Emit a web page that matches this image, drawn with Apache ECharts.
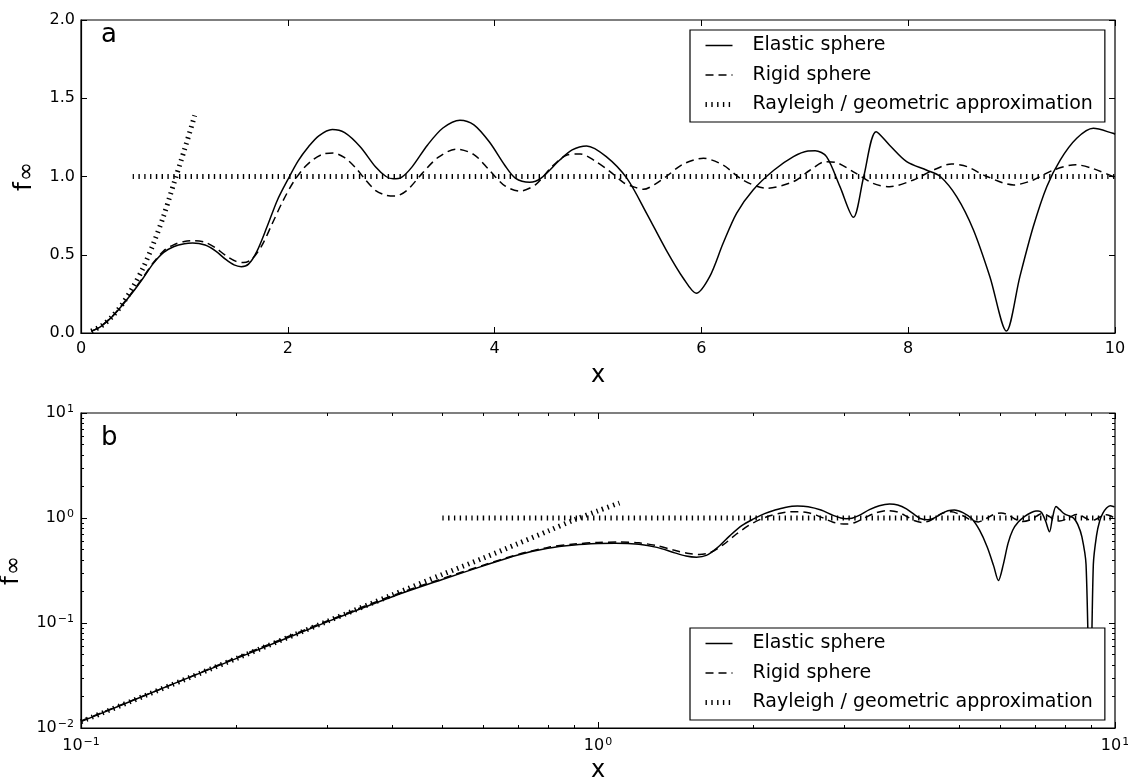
<!DOCTYPE html>
<html><head><meta charset="utf-8">
<script src="https://cdn.jsdelivr.net/npm/echarts@6/dist/echarts.min.js"></script>
<style>html,body{margin:0;padding:0;background:#fff}#c{width:1128px;height:779px}</style>
</head><body><div id="c"></div>
<script>
// ---------------- data ----------------
const seriesNames = ['Elastic sphere', 'Rigid sphere', 'Rayleigh / geometric approximation'];

const elasticX = [0.1,0.15,0.2,0.3,0.4,0.5,0.6,0.7,0.8,0.9,1.0,1.08,1.2,1.3,1.4,1.48,1.55,1.62,1.7,1.8,1.9,2.0,2.1,2.2,2.3,2.43,2.55,2.7,2.85,2.95,3.02,3.1,3.2,3.35,3.5,3.665,3.8,3.95,4.1,4.2,4.34,4.45,4.63,4.75,4.89,5.08,5.28,5.47,5.66,5.825,5.95,6.08,6.21,6.34,6.5,6.7,6.89,7.03,7.1,7.21,7.34,7.47,7.57,7.69,7.82,7.985,8.18,8.31,8.47,8.63,8.79,8.95,9.08,9.21,9.34,9.47,9.63,9.79,9.98,10.0];
const elasticY = [0.0115,0.026,0.046,0.103,0.178,0.26,0.35,0.445,0.515,0.553,0.571,0.575,0.562,0.525,0.47,0.435,0.424,0.44,0.52,0.68,0.85,0.98,1.1,1.19,1.26,1.30,1.28,1.19,1.06,1.0,0.985,0.995,1.06,1.2,1.31,1.36,1.33,1.22,1.07,0.99,0.963,0.99,1.105,1.17,1.195,1.127,0.988,0.765,0.53,0.35,0.254,0.36,0.573,0.765,0.914,1.04,1.127,1.163,1.165,1.127,0.935,0.739,1.0,1.286,1.2,1.095,1.04,1.0,0.87,0.66,0.36,0.012,0.36,0.68,0.935,1.105,1.244,1.308,1.276,1.27];

const rigidX = [0.1,0.15,0.2,0.3,0.4,0.5,0.6,0.7,0.8,0.9,1.0,1.1,1.2,1.3,1.4,1.5,1.57,1.65,1.75,1.85,1.95,2.05,2.15,2.25,2.35,2.44,2.55,2.65,2.75,2.85,2.95,3.04,3.15,3.3,3.45,3.63,3.8,3.95,4.1,4.245,4.4,4.55,4.7,4.83,4.97,5.12,5.25,5.34,5.44,5.55,5.66,5.825,6.02,6.21,6.4,6.63,6.89,7.05,7.2,7.3,7.47,7.66,7.82,8.05,8.24,8.42,8.57,8.76,9.02,9.21,9.4,9.62,9.79,9.98,10.0];
const rigidY = [0.0117,0.026,0.047,0.105,0.182,0.265,0.355,0.45,0.525,0.565,0.585,0.59,0.58,0.545,0.495,0.458,0.45,0.47,0.56,0.7,0.84,0.96,1.05,1.11,1.145,1.15,1.12,1.06,0.98,0.91,0.88,0.875,0.91,1.02,1.12,1.175,1.14,1.04,0.94,0.907,0.95,1.06,1.137,1.144,1.1,1.03,0.96,0.935,0.918,0.95,1.0,1.08,1.116,1.073,0.978,0.925,0.967,1.04,1.095,1.09,1.03,0.956,0.935,0.978,1.04,1.08,1.063,1.0,0.946,0.978,1.04,1.075,1.05,1.0,0.995];

const rayleighX = [0.1,0.2,0.3,0.4,0.5,0.6,0.7,0.8,0.9,1.0,1.1];
const rayleighY = [0.0115,0.046,0.104,0.185,0.29,0.415,0.57,0.75,0.96,1.17,1.39];

const geometricX = [0.5,10];
const geometricY = [1.0,1.0];

// tick values
const linXTicks = [0, 2, 4, 6, 8, 10];
const linYTicks = [0, 0.5, 1.0, 1.5, 2.0];
const logXDecades = [-1, 0, 1];
const logYDecades = [-2, -1, 0, 1];
const minorMultipliers = [2, 3, 4, 5, 6, 7, 8, 9];

// ---------------- helpers ----------------
const zip = (xs, ys) => xs.map((x, i) => [x, ys[i]]);
const FONT = 'DejaVu Sans';
const minorExp = decades => {
  const out = [];
  decades.slice(0, -1).forEach(d => minorMultipliers.forEach(m => out.push(d + Math.log10(m))));
  return out;
};
const supLabel = v => {
  const e = Math.round(Math.log10(v));
  return '{b|10}{s|' + (e < 0 ? '\u2212' + (-e) : e) + '}';
};
const supRich = {
  b: { fontSize: 16, fontFamily: FONT, color: '#000' },
  s: { fontSize: 11, fontFamily: FONT, color: '#000', verticalAlign: 'top', padding: [0, 0, 7, 1] }
};
const nameRich = {
  f: { fontSize: 25, fontFamily: FONT, color: '#000' },
  s: { fontSize: 23, fontFamily: FONT, color: '#000', padding: [6, 0, 0, 1] }
};
const tick = (len) => ({ show: true, inside: true, length: len, lineStyle: { color: '#000', width: 1 } });
const aux = (grid, pos, min, max, values, len) => ({
  type: 'value', gridIndex: grid, position: pos, min: min, max: max,
  axisLine: { show: false, onZero: false }, axisLabel: { show: false }, splitLine: { show: false },
  axisTick: Object.assign(tick(len), { customValues: values })
});

const styles = {
  elastic: { color: '#000', width: 1.5, type: 'solid' },
  rigid: { color: '#000', width: 1.5, type: [8, 5] },
  dotted: { color: '#000', width: 5, type: [1.4, 4.4], cap: 'butt' }
};
const mkSeries = (name, data, ls, xi, yi, z) => ({
  type: 'line', name: name, data: data, xAxisIndex: xi, yAxisIndex: yi, color: '#000',
  showSymbol: false, symbol: 'none', smooth: 0.3, lineStyle: ls, z: z, animation: false,
  emphasis: { disabled: true }
});

const hiddenSymbol = { color: 'rgba(0,0,0,0)', borderColor: 'rgba(0,0,0,0)', borderWidth: 0 };
const mkLegend = (top) => ({
  left: 690, top: top, orient: 'vertical',
  backgroundColor: '#fff', borderColor: '#000', borderWidth: 1.2, borderRadius: 0,
  padding: [6, 12, 8, 13], itemWidth: 27, itemHeight: 18, itemGap: 10.5,
  selectedMode: false, z: 10,
  textStyle: { fontFamily: FONT, fontSize: 19, color: '#000', padding: [0, 0, 0, 15] },
  data: [
    { name: seriesNames[0], lineStyle: styles.elastic, itemStyle: hiddenSymbol },
    { name: seriesNames[1], lineStyle: styles.rigid, itemStyle: hiddenSymbol },
    { name: seriesNames[2], lineStyle: styles.dotted, itemStyle: hiddenSymbol }
  ]
});

const mainLine = { show: true, onZero: false, lineStyle: { color: '#000', width: 1.2 } };

const chart = echarts.init(document.getElementById('c'), null, { renderer: 'canvas' });
chart.setOption({
  animation: false,
  backgroundColor: '#fff',
  title: [
    { text: 'a', left: 101, top: 22, padding: 0, textStyle: { fontFamily: FONT, fontSize: 26, fontWeight: 'normal', color: '#000' } },
    { text: 'b', left: 101, top: 425, padding: 0, textStyle: { fontFamily: FONT, fontSize: 26, fontWeight: 'normal', color: '#000' } }
  ],
  legend: [mkLegend(30), mkLegend(628)],
  grid: [
    { left: 81, top: 20, width: 1034, height: 313, show: true, borderColor: '#000', borderWidth: 1.2, backgroundColor: 'transparent', containLabel: false, outerBoundsMode: 'none' },
    { left: 81, top: 413, width: 1034, height: 315, show: true, borderColor: '#000', borderWidth: 1.2, backgroundColor: 'transparent', containLabel: false, outerBoundsMode: 'none' }
  ],
  xAxis: [
    { type: 'value', gridIndex: 0, position: 'bottom', min: linXTicks[0], max: linXTicks[linXTicks.length - 1], interval: 2,
      axisLine: mainLine, splitLine: { show: false }, axisTick: tick(6),
      axisLabel: { margin: 8, fontFamily: FONT, fontSize: 16, color: '#000' },
      name: 'x', nameLocation: 'middle', nameGap: 31, nameTextStyle: { fontFamily: FONT, fontSize: 24, color: '#000' } },
    aux(0, 'top', 0, 10, linXTicks, 6),
    { type: 'log', gridIndex: 1, position: 'bottom', min: 0.1, max: 10, logBase: 10,
      axisLine: mainLine, splitLine: { show: false }, axisTick: tick(6),
      minorTick: { show: false },
      axisLabel: { margin: 9, formatter: supLabel, rich: supRich },
      name: 'x', nameLocation: 'middle', nameGap: 31, nameTextStyle: { fontFamily: FONT, fontSize: 24, color: '#000' } },
    aux(1, 'bottom', -1, 1, minorExp(logXDecades), 3),
    aux(1, 'top', -1, 1, logXDecades, 6),
    aux(1, 'top', -1, 1, minorExp(logXDecades), 3)
  ],
  yAxis: [
    { type: 'value', gridIndex: 0, position: 'left', min: linYTicks[0], max: linYTicks[linYTicks.length - 1], interval: 0.5,
      axisLine: mainLine, splitLine: { show: false }, axisTick: tick(6),
      axisLabel: { margin: 6, fontFamily: FONT, fontSize: 16, color: '#000', formatter: v => v.toFixed(1) },
      name: '{f|f}{s|\u221e}', nameLocation: 'middle', nameGap: 30, nameTextStyle: { rich: nameRich } },
    aux(0, 'right', 0, 2, linYTicks, 6),
    { type: 'log', gridIndex: 1, position: 'left', min: 0.01, max: 10, logBase: 10,
      axisLine: mainLine, splitLine: { show: false }, axisTick: tick(6),
      minorTick: { show: false },
      axisLabel: { margin: 7, formatter: supLabel, rich: supRich },
      name: '{f|f}{s|\u221e}', nameLocation: 'middle', nameGap: 38, nameTextStyle: { rich: nameRich } },
    aux(1, 'left', -2, 1, minorExp(logYDecades), 3),
    aux(1, 'right', -2, 1, logYDecades, 6),
    aux(1, 'right', -2, 1, minorExp(logYDecades), 3)
  ],
  series: [
    mkSeries(seriesNames[0], zip(elasticX, elasticY), styles.elastic, 0, 0, 3),
    mkSeries(seriesNames[1], zip(rigidX, rigidY), styles.rigid, 0, 0, 3),
    mkSeries(seriesNames[2], zip(rayleighX, rayleighY), styles.dotted, 0, 0, 2),
    mkSeries(seriesNames[2], zip(geometricX, geometricY), styles.dotted, 0, 0, 2),
    mkSeries(seriesNames[0], zip(elasticX, elasticY), styles.elastic, 2, 2, 3),
    mkSeries(seriesNames[1], zip(rigidX, rigidY), styles.rigid, 2, 2, 3),
    mkSeries(seriesNames[2], zip(rayleighX, rayleighY), styles.dotted, 2, 2, 2),
    mkSeries(seriesNames[2], zip(geometricX, geometricY), styles.dotted, 2, 2, 2)
  ]
});
</script></body></html>
